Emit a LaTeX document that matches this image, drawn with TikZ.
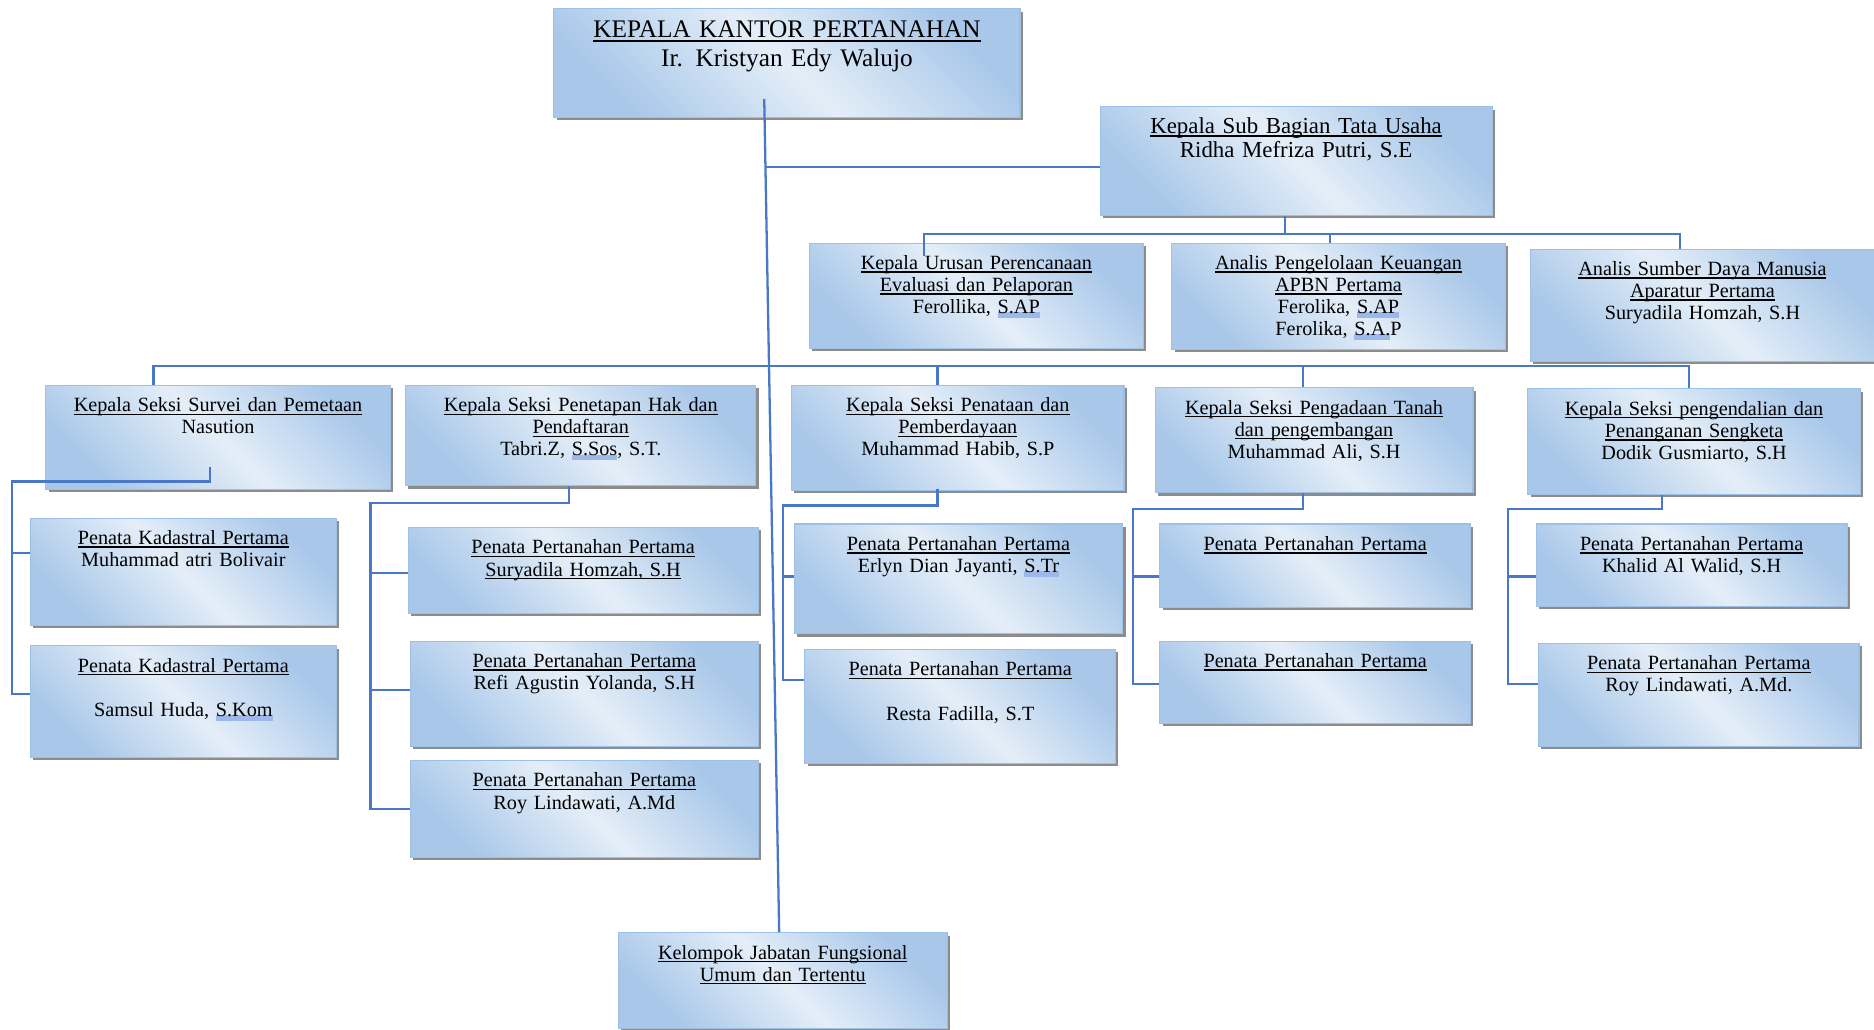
\documentclass[tikz,border=0pt]{standalone}
\usepackage{fontspec}
\setmainfont{Liberation Serif}
\usetikzlibrary{shadows}

\definecolor{linkblue}{HTML}{4A78C8}
\definecolor{boxedge}{HTML}{9DC0E6}
\definecolor{boxdark}{HTML}{A8C7E9}
\definecolor{boxlight}{HTML}{E4EEF8}
\definecolor{gramblue}{HTML}{9DB9EC}

\newlength\unitlen
\setlength\unitlen{0.239mm}
\newsavebox\lnbox
\newcommand\ttl[1]{\leavevmode\sbox\lnbox{#1}\rlap{\rule[-0.35ex]{\wd\lnbox}{0.8pt}}\usebox\lnbox}
\newcommand\gram[1]{\leavevmode\sbox\lnbox{#1}\rlap{\textcolor{gramblue}{\rule[-0.45ex]{\wd\lnbox}{0.6ex}}}\usebox\lnbox}

\tikzset{
  orgbox/.style={draw=boxedge, line width=0.6pt,
    top color=boxdark, bottom color=boxdark, middle color=boxlight, shading angle=-45,
    drop shadow={shadow xshift=0.55mm, shadow yshift=-0.55mm, fill=black!45, opacity=1},
    anchor=north west, inner sep=0pt, align=center, text height=22\unitlen,
    font=\fontsize{11.5}{12.6}\selectfont},
  link/.style={draw=linkblue, line width=1.3pt},
}

\begin{document}
\begin{tikzpicture}[x=0.239mm, y=-0.239mm]
    \useasboundingbox (0,0) rectangle (1568,861);

    % Kepala kantor and tata usaha
    \node[orgbox, text width=390\unitlen, text height=24\unitlen, text depth=67\unitlen, font=\fontsize{14.4}{16.3}\selectfont] (kantor) at (463,7) {\ttl{KEPALA KANTOR PERTANAHAN}\\Ir. Kristyan Edy Walujo};
    \node[orgbox, text width=328\unitlen, text depth=69\unitlen, font=\fontsize{13}{13.8}\selectfont] (tu) at (920,89) {\ttl{Kepala Sub Bagian Tata Usaha}\\Ridha Mefriza Putri, S.E};

    % Under tata usaha
    \node[orgbox, text width=279\unitlen, text depth=66\unitlen] (urusan) at (677,203) {\ttl{Kepala Urusan Perencanaan}\\\ttl{Evaluasi dan Pelaporan}\\Ferollika, \gram{S.AP}};
    \node[orgbox, text width=279\unitlen, text depth=67\unitlen] (keuangan) at (980,203) {\ttl{Analis Pengelolaan Keuangan}\\\ttl{APBN Pertama}\\Ferolika, \gram{S.AP}\\Ferolika, \gram{S.A.}P};
    \node[orgbox, text width=288\unitlen, text depth=72\unitlen] (sdm) at (1280,208) {\ttl{Analis Sumber Daya Manusia}\\\ttl{Aparatur Pertama}\\Suryadila Homzah, S.H};

    % Kepala seksi
    \node[orgbox, text width=288\unitlen, text depth=65\unitlen] (survei) at (38,322) {\ttl{Kepala Seksi Survei dan Pemetaan}\\Nasution};
    \node[orgbox, text width=293\unitlen, text depth=62\unitlen] (penetapan) at (339,322) {\ttl{Kepala Seksi Penetapan Hak dan}\\\ttl{Pendaftaran}\\Tabri.Z, \gram{S.Sos}, S.T.};
    \node[orgbox, text width=278\unitlen, text depth=66\unitlen] (penataan) at (662,322) {\ttl{Kepala Seksi Penataan dan}\\\ttl{Pemberdayaan}\\Muhammad Habib, S.P};
    \node[orgbox, text width=266\unitlen, text depth=66\unitlen] (pengadaan) at (966,324) {\ttl{Kepala Seksi Pengadaan Tanah}\\\ttl{dan pengembangan}\\Muhammad Ali, S.H};
    \node[orgbox, text width=278\unitlen, text depth=66\unitlen] (pengendalian) at (1278,325) {\ttl{Kepala Seksi pengendalian dan}\\\ttl{Penanganan Sengketa}\\Dodik Gusmiarto, S.H};

    % Penata under each seksi
    \node[orgbox, text width=256\unitlen, text depth=68\unitlen] (kad1) at (25,433) {\ttl{Penata Kadastral Pertama}\\Muhammad atri Bolivair};
    \node[orgbox, text width=256\unitlen, text depth=71\unitlen] (kad2) at (25,540) {\ttl{Penata Kadastral Pertama}\\[12.6pt]Samsul Huda, \gram{S.Kom}};
    \node[orgbox, text width=293\unitlen, text depth=50\unitlen] (hak1) at (341,441) {\ttl{Penata Pertanahan Pertama}\\\ttl{Suryadila Homzah, S.H}};
    \node[orgbox, text width=291\unitlen, text depth=66\unitlen] (hak2) at (343,536) {\ttl{Penata Pertanahan Pertama}\\Refi Agustin Yolanda, S.H};
    \node[orgbox, text width=291\unitlen, text depth=59\unitlen] (hak3) at (343,636) {\ttl{Penata Pertanahan Pertama}\\Roy Lindawati, A.Md};
    \node[orgbox, text width=275\unitlen, text depth=70\unitlen] (tata1) at (664,438) {\ttl{Penata Pertanahan Pertama}\\Erlyn Dian Jayanti, \gram{S.Tr}};
    \node[orgbox, text width=260\unitlen, text depth=73\unitlen] (tata2) at (673,543) {\ttl{Penata Pertanahan Pertama}\\[12.6pt]Resta Fadilla, S.T};
    \node[orgbox, text width=260\unitlen, text depth=48\unitlen] (ada1) at (970,438) {\ttl{Penata Pertanahan Pertama}};
    \node[orgbox, text width=260\unitlen, text depth=47\unitlen] (ada2) at (970,536) {\ttl{Penata Pertanahan Pertama}};
    \node[orgbox, text width=260\unitlen, text depth=47\unitlen] (dal1) at (1285,438) {\ttl{Penata Pertanahan Pertama}\\Khalid Al Walid, S.H};
    \node[orgbox, text width=268\unitlen, text depth=64\unitlen] (dal2) at (1287,538) {\ttl{Penata Pertanahan Pertama}\\Roy Lindawati, A.Md.};

    % Kelompok jabatan fungsional
    \node[orgbox, text width=275\unitlen, text depth=58\unitlen] (kelompok) at (517,780) {\ttl{Kelompok Jabatan Fungsional}\\\ttl{Umum dan Tertentu}};

    % Trunk and tata usaha
    \draw[link] ([shift={(-19,-16)}]kantor.south) -- ([shift={(-3,0)}]kelompok.north);
    \draw[link] ([shift={(0,4.5)}]tu.west) -- ++(-280,0);
    \draw[link] ([shift={(-9,0)}]tu.south) -- ++(0,16);
    \draw[link] ([shift={(-44,11)}]urusan.north) -- ++(0,-18) -| ([shift={(-19,0)}]sdm.north);
    \draw[link] ([shift={(-7,0)}]keuangan.north) -- ++(0,-7);

    % Bus to the seksi
    \draw[link] ([shift={(-54,0)}]survei.north) -- ++(0,-16) -| ([shift={(-4,0)}]pengendalian.north);
    \draw[link] ([shift={(-17,0)}]penataan.north) -- ++(0,-16);
    \draw[link] ([shift={(-9,0)}]pengadaan.north) -- ++(0,-18);

    % Seksi to penata
    \draw[link] ([shift={(-7,-19)}]survei.south) -- ++(0,12) -| ([shift={(-15,-6.5)}]kad2.west) -- ([shift={(0,-6.5)}]kad2.west);
    \draw[link] ([shift={(0,-16)}]kad1.west) -- ++(-15,0);
    \draw[link] ([shift={(-10,0)}]penetapan.south) -- ++(0,14) -| ([shift={(-33,0)}]hak3.west) -- (hak3.west);
    \draw[link] ([shift={(0,2)}]hak1.west) -- ++(-31,0);
    \draw[link] ([shift={(0,-3)}]hak2.west) -- ++(-33,0);
    \draw[link] ([shift={(-17,-2)}]penataan.south) -- ++(0,14) -| ([shift={(-18,-22)}]tata2.west) -- ([shift={(0,-22)}]tata2.west);
    \draw[link] ([shift={(0,-2)}]tata1.west) -- ++(-9,0);
    \draw[link] ([shift={(-9,0)}]pengadaan.south) -- ++(0,13) -| ([shift={(-22,1.5)}]ada2.west) -- ([shift={(0,1.5)}]ada2.west);
    \draw[link] ([shift={(0,9)}]ada1.west) -- ++(-22,0);
    \draw[link] ([shift={(-27,0)}]pengendalian.south) -- ++(0,12) -| ([shift={(-25,-9)}]dal2.west) -- ([shift={(0,-9)}]dal2.west);
    \draw[link] ([shift={(0,9.5)}]dal1.west) -- ++(-23,0);
\end{tikzpicture}
\end{document}
